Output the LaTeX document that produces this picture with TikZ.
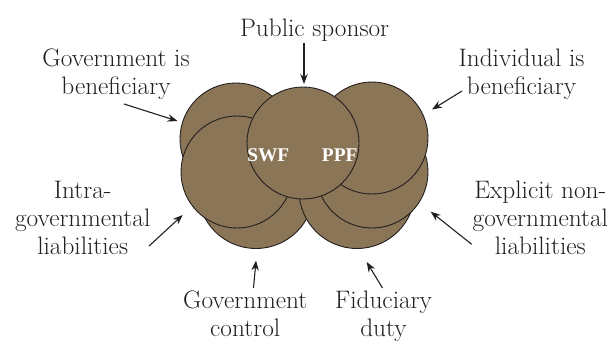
\documentclass[tikz,border=0pt]{standalone}
\usepackage{fontspec}
\newfontfamily\fundfont{Liberation Serif}
\usetikzlibrary{arrows.meta}
\definecolor{fund}{RGB}{138,117,86}
\definecolor{ink}{RGB}{35,31,32}
\begin{document}
\begin{tikzpicture}[x=1pt,y=-1pt,
  bubble/.style={circle,draw=ink,fill=fund,line width=0.9pt,minimum size=112pt,inner sep=0pt},
  lab/.style={font=\fontsize{25.3}{28}\selectfont,text=ink,align=center,inner sep=0pt,anchor=base},
  fundname/.style={font=\fundfont\bfseries\fontsize{19.4}{22}\selectfont,text=white,inner sep=0pt,anchor=base},
  pointer/.style={-{Stealth[length=10pt,width=7.5pt]},line width=1.1pt,draw=ink}]
\useasboundingbox (0,0) rectangle (611,341);
% circles, back to front
\node[bubble] (tl) at (236,139) {};
\node[bubble,minimum size=116pt] (bl) at (256,190.5) {};
\node[bubble] (ml) at (237,172) {};
\node[bubble,minimum size=116pt] (br) at (357,190.5) {};
\node[bubble] (mr) at (372,172) {};
\node[bubble] (tr) at (372,138) {};
\node[bubble] (cc) at (303,143) {};
\node[fundname] (swf) at (268.3,161.7) {SWF};
\node[fundname] (ppf) at (339.7,161.7) {PPF};
% labels (anchor base = baseline of last line)
\node[lab] (ps) at (314.6,36.3) {Public sponsor};
\node[lab] (gb) at (116,94.3) {Government is\\beneficiary};
\node[lab] (ib) at (521.5,94.3) {Individual is\\beneficiary};
\node[lab] (ig) at (82.7,254.3) {Intra-\\governmental\\liabilities};
\node[lab] (en) at (540.3,254.3) {Explicit non-\\governmental\\liabilities};
\node[lab] (gc) at (245.2,336) {Government\\control};
\node[lab] (fd) at (383.5,336) {Fiduciary\\duty};
% arrow ends
\coordinate (ps1) at (304,43);   \coordinate (ps2) at (304,84);
\coordinate (gb1) at (124,104);  \coordinate (gb2) at (177.5,121);
\coordinate (ib1) at (462,91);   \coordinate (ib2) at (432,109.5);
\coordinate (ig1) at (149,246);  \coordinate (ig2) at (182.7,215);
\coordinate (en1) at (471.7,244.3); \coordinate (en2) at (430.7,211.7);
\coordinate (gc1) at (253.5,288); \coordinate (gc2) at (256,260.5);
\coordinate (fd1) at (382.5,288); \coordinate (fd2) at (366.7,262);
\foreach \a in {ps,gb,ib,ig,en,gc,fd} \draw[pointer] (\a1) -- (\a2);
\end{tikzpicture}
\end{document}
